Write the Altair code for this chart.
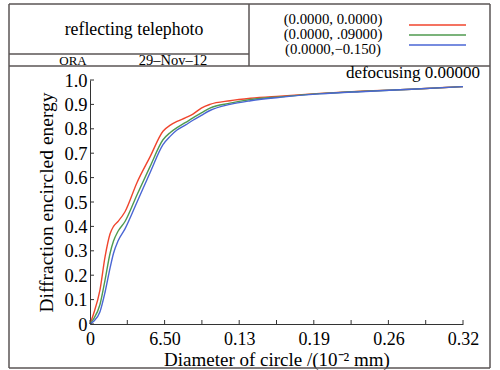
import altair as alt
import pandas as pd

# ---- data ----
x_vals = [0, 0.003, 0.0087, 0.0131, 0.0175, 0.0205, 0.0244, 0.0305, 0.041, 0.0523,
          0.0636, 0.070, 0.0758, 0.083, 0.0897, 0.097, 0.1045, 0.122, 0.14, 0.1655,
          0.2003, 0.24, 0.28, 0.325]
red_vals = [0, 0.04, 0.14, 0.275, 0.37, 0.40, 0.42, 0.46, 0.58, 0.685,
            0.79, 0.815, 0.83, 0.845, 0.86, 0.885, 0.90, 0.915, 0.925, 0.934,
            0.945, 0.955, 0.962, 0.973]
green_vals = [0, 0.02, 0.08, 0.18, 0.29, 0.34, 0.38, 0.42, 0.53, 0.645,
              0.755, 0.785, 0.805, 0.825, 0.845, 0.865, 0.885, 0.905, 0.92, 0.931,
              0.944, 0.954, 0.962, 0.973]
blue_vals = [0, 0.01, 0.05, 0.13, 0.23, 0.29, 0.34, 0.39, 0.50, 0.62,
             0.735, 0.77, 0.795, 0.815, 0.835, 0.855, 0.875, 0.90, 0.915, 0.929,
             0.943, 0.953, 0.962, 0.973]
series_names = ["(0.0000, 0.0000)", "(0.0000, .09000)", "(0.0000,\u22120.150)"]
series_colors = ["#f0452d", "#4f9a4f", "#4a66d4"]

x_tick_values = [0, 0.065, 0.13, 0.195, 0.26, 0.325]
x_tick_labels = ["0", "6.50", "0.13", "0.19", "0.26", "0.32"]
x_minor_ticks = [0.0325, 0.0975, 0.1625, 0.2275, 0.2925]
y_tick_values = [0, 0.1, 0.2, 0.3, 0.4, 0.5, 0.6, 0.7, 0.8, 0.9, 1.0]

title_text = "reflecting telephoto"
org_text = "ORA"
date_text = "29\u2013Nov\u201312"
defocus_text = "defocusing 0.00000"
x_title = "Diameter of circle /(10\u207b\u00b2 mm)"
y_title = "Diffraction encircled energy"

FONT = "Liberation Serif"
FRAME = "#5a5555"

rows = []
for name, vals in zip(series_names, [red_vals, green_vals, blue_vals]):
    for xv, yv in zip(x_vals, vals):
        rows.append({"x": xv, "y": yv, "series": name})
df = pd.DataFrame(rows)

xscale = alt.Scale(domain=[0, 0.325], nice=False, zero=False)
yscale = alt.Scale(domain=[0, 1.0], nice=False)

label_arr = "[" + ",".join("'" + s + "'" for s in x_tick_labels) + "]"

x_axis = alt.Axis(
    values=x_tick_values, labelExpr=label_arr + "[round(datum.value/0.065)]",
    tickSize=0, grid=False, domainColor="#333", labelFont=FONT, labelFontSize=18,
    labelColor="black", labelPadding=6, title=x_title, titleFont=FONT,
    titleFontSize=19, titleFontWeight="normal", titleColor="black", titlePadding=2,
    labelFlush=False, labelOverlap=False)
y_axis = alt.Axis(
    values=y_tick_values, labelExpr="datum.value == 0 ? '0' : format(datum.value, '.1f')",
    tickSize=0, grid=False, domainColor="#333", labelFont=FONT, labelFontSize=18.5,
    labelColor="black", labelPadding=3, title=y_title, titleFont=FONT,
    titleFontSize=19.5, titleFontWeight="normal", titleColor="black", titlePadding=7,
    labelOverlap=False, labelFlush=False)

lines = alt.Chart(df).mark_line(interpolate="monotone", strokeWidth=1.4).encode(
    x=alt.X("x:Q", scale=xscale, axis=x_axis),
    y=alt.Y("y:Q", scale=yscale, axis=y_axis),
    color=alt.Color("series:N", scale=alt.Scale(domain=series_names, range=series_colors),
                    legend=None),
)

# inward ticks
xt = pd.DataFrame({"v": x_tick_values + x_minor_ticks})
xticks = alt.Chart(xt).mark_rule(color="#333", strokeWidth=1).encode(
    x=alt.X("v:Q", scale=xscale, axis=x_axis), y=alt.value(244), y2=alt.value(240))
yt = pd.DataFrame({"v": y_tick_values})
yticks = alt.Chart(yt).mark_rule(color="#333", strokeWidth=1).encode(
    y=alt.Y("v:Q", scale=yscale, axis=y_axis), x=alt.value(0), x2=alt.value(4))

one = pd.DataFrame({"a": [0]})
base = alt.Chart(one)

def hline(x1, x2, y):
    return base.mark_rule(color=FRAME, strokeWidth=1.5).encode(
        x=alt.value(x1), x2=alt.value(x2), y=alt.value(y))

def vline(x, y1, y2):
    return base.mark_rule(color=FRAME, strokeWidth=1.5).encode(
        x=alt.value(x), y=alt.value(y1), y2=alt.value(y2))

frame = [
    hline(-81, 400, -76), hline(-81, 400, 288), vline(-81, -76, 288), vline(400, -76, 288),
    hline(-81, 400, -14), vline(159, -76, -14), hline(-81, 159, -26),
]

def txt(s, x, y, size, align="center", baseline="middle"):
    return base.mark_text(font=FONT, fontSize=size, align=align, baseline=baseline,
                          color="black").encode(
        x=alt.value(x), y=alt.value(y), text=alt.value(s))

texts = [
    txt(title_text, 44, -50, 17.8),
    txt(org_text, -17, -19, 13),
    txt(date_text, 83, -19, 14.5),
    txt(series_names[0], 243, -60, 14.8),
    txt(series_names[1], 243, -45, 14.8),
    txt(series_names[2], 243, -30, 14.8),
    txt(defocus_text, 390, -2, 17, align="right", baseline="alphabetic"),
]

legend_lines = []
for c, yy in zip(series_colors, [-55, -45, -35]):
    legend_lines.append(base.mark_rule(color=c, strokeWidth=1.4).encode(
        x=alt.value(319), x2=alt.value(376), y=alt.value(yy)))

chart = alt.layer(lines, xticks, yticks, *frame, *texts, *legend_lines).properties(
    width=373, height=244,
    autosize=alt.AutoSizeParams(type="none"),
    padding={"left": 90, "top": 80, "right": 37, "bottom": 46},
    background="white",
).configure_view(stroke=None)

chart.save("out.html", embed_options={"renderer": "svg", "actions": False})
